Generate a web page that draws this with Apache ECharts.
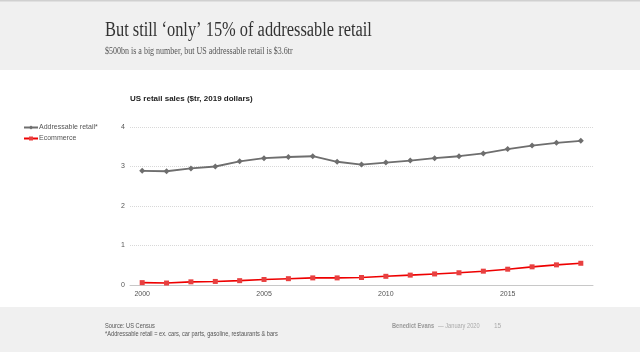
<!DOCTYPE html>
<html>
<head>
<meta charset="utf-8">
<script src="https://cdn.jsdelivr.net/npm/echarts@6/dist/echarts.min.js"></script>
<style>
  html, body { margin: 0; padding: 0; background: #fff; }
  #chart { width: 640px; height: 352px; }
</style>
</head>
<body>
<div id="chart"></div>
<script>
var years = ['2000','2001','2002','2003','2004','2005','2006','2007','2008','2009',
             '2010','2011','2012','2013','2014','2015','2016','2017','2018'];
var addressable = [2.89, 2.88, 2.95, 3.00, 3.13, 3.21, 3.24, 3.26, 3.12, 3.05,
                   3.10, 3.15, 3.21, 3.26, 3.33, 3.44, 3.53, 3.60, 3.65];
var ecommerce = [0.06, 0.05, 0.08, 0.09, 0.11, 0.14, 0.16, 0.18, 0.18, 0.19,
                 0.22, 0.25, 0.28, 0.31, 0.35, 0.40, 0.46, 0.51, 0.55];
var yTicks = [0, 1, 2, 3, 4];

var myChart = echarts.init(document.getElementById('chart'));
var sans = '"Liberation Sans", Arial, sans-serif';
var serif = '"Liberation Serif", "DejaVu Serif", serif';

var option = {
    backgroundColor: '#fff',
    animation: false,
    graphic: [
        { type: 'rect', shape: { x: 0, y: 0, width: 640, height: 70 }, style: { fill: '#f0f0f0' }, z: -10 },
        { type: 'rect', shape: { x: 0, y: 0, width: 640, height: 1.5 }, style: { fill: '#d0d0d0' }, z: -9 },
        { type: 'rect', shape: { x: 0, y: 307, width: 640, height: 45 }, style: { fill: '#f0f0f0' }, z: -10 },
        // header texts (slightly condensed to match the slide typeface)
        { type: 'text', x: 105, y: 31, scaleX: 0.82, style: {
            text: 'But still ‘only’ 15% of addressable retail',
            font: '20px ' + serif, fill: '#333', textVerticalAlign: 'middle' } },
        { type: 'text', x: 105, y: 51, scaleX: 0.8, style: {
            text: '$500bn is a big number, but US addressable retail is $3.6tr',
            font: '10px ' + serif, fill: '#555', textVerticalAlign: 'middle' } },
        // footer
        { type: 'text', x: 105, y: 326, scaleX: 0.9, style: {
            text: 'Source: US Census', font: '6.3px ' + sans, fill: '#555', textVerticalAlign: 'middle' } },
        { type: 'text', x: 105, y: 334, scaleX: 0.9, style: {
            text: '*Addressable retail = ex. cars, car parts, gasoline, restaurants & bars',
            font: '6.3px ' + sans, fill: '#555', textVerticalAlign: 'middle' } },
        { type: 'text', x: 392, y: 326, scaleX: 0.9, style: {
            text: 'Benedict Evans', font: 'bold 6.3px ' + sans, fill: '#999', textVerticalAlign: 'middle' } },
        { type: 'text', x: 438, y: 326, scaleX: 0.9, style: {
            text: '— January 2020', font: '6.3px ' + sans, fill: '#aaa', textVerticalAlign: 'middle' } },
        { type: 'text', x: 494, y: 326, style: {
            text: '15', font: '6.5px ' + sans, fill: '#aaa', textVerticalAlign: 'middle' } }
    ],
    title: {
        text: 'US retail sales ($tr, 2019 dollars)',
        left: 125, top: 90,
        textStyle: { fontFamily: sans, fontSize: 8, fontWeight: 'bold', color: '#222' }
    },
    legend: {
        orient: 'vertical',
        left: 18, top: 119,
        itemWidth: 14, itemHeight: 5, itemGap: 4,
        textStyle: { fontFamily: sans, fontSize: 7, color: '#555', padding: [0, 0, 0, -4] },
        data: ['Addressable retail*', 'Ecommerce']
    },
    grid: { left: 130, right: 47, top: 127, bottom: 67, containLabel: false },
    xAxis: {
        type: 'category',
        data: years,
        boundaryGap: true,
        axisLine: { lineStyle: { color: '#c8c8c8', width: 1 } },
        axisTick: { show: false },
        axisLabel: { interval: 4, fontFamily: sans, fontSize: 7, color: '#555', margin: 6 }
    },
    yAxis: {
        type: 'value',
        min: yTicks[0], max: yTicks[yTicks.length - 1], interval: 1,
        axisLine: { show: false },
        axisTick: { show: false },
        axisLabel: { fontFamily: sans, fontSize: 7, color: '#555', margin: 5 },
        splitLine: { lineStyle: { color: '#d8d8d8', type: 'dotted', width: 1 } }
    },
    series: [
        {
            name: 'Addressable retail*',
            type: 'line',
            data: addressable,
            symbol: 'diamond', symbolSize: 6,
            lineStyle: { color: '#6e6e6e', width: 1.8 },
            itemStyle: { color: '#6e6e6e' }
        },
        {
            name: 'Ecommerce',
            type: 'line',
            data: ecommerce,
            symbol: 'rect', symbolSize: 5,
            lineStyle: { color: '#ee0000', width: 1.6 },
            itemStyle: { color: '#e84040' }
        }
    ]
};
myChart.setOption(option);
</script>
</body>
</html>
